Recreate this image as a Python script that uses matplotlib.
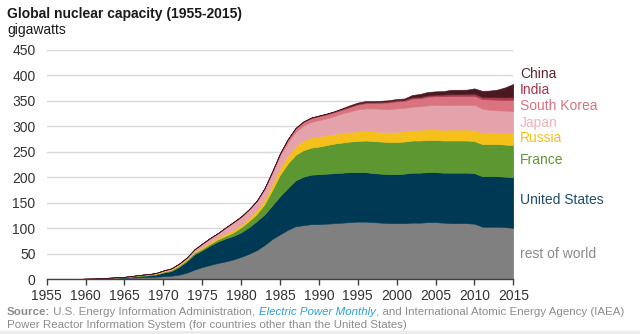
import matplotlib
matplotlib.use("Agg")
import matplotlib.pyplot as plt
from matplotlib.patches import Rectangle

plt.rcParams['font.family'] = ['Liberation Sans', 'DejaVu Sans']

years = list(range(1955, 2016))

rest_of_world = [0, 0.05, 0.1, 0.2, 0.4, 0.6, 0.8, 1.0, 1.5, 2.2,
                 3, 3.5, 4, 4.5, 5, 6, 7, 9, 13, 19,
                 24, 28, 32, 35, 39, 44, 50, 57, 67, 79,
                 88, 97, 104, 106, 108, 108, 109, 110, 111, 112,
                 113, 113, 112, 111, 110, 110, 110, 111, 111, 112,
                 112, 111, 110, 110, 110, 109, 103, 103, 103, 102,
                 101]
united_states = [0, 0, 0.06, 0.06, 0.1, 0.4, 0.5, 0.8, 0.9, 0.9,
                 0.9, 1.5, 2.5, 3, 4, 7, 9, 15, 22, 30,
                 33, 38, 42, 45, 46, 48, 52, 57, 60, 66,
                 75, 82, 90, 95, 97, 98, 98, 98, 98, 98,
                 97, 97, 96, 96, 96, 96, 97, 98, 98, 98,
                 98, 98, 99, 99, 99, 99, 99, 99, 99, 99,
                 99]
france = [0, 0, 0, 0, 0.05, 0.1, 0.1, 0.2, 0.3, 0.4,
          0.5, 0.8, 1.2, 1.5, 1.6, 1.7, 2, 2.5, 2.8, 2.8,
          3, 3.5, 4, 5, 7, 10, 12, 14, 20, 30,
          42, 48, 50, 52, 53, 54, 56, 58, 59, 60,
          61, 62, 63, 63, 63, 63, 63, 63, 63, 63,
          63, 63, 63, 63, 63, 63, 63, 63, 63, 63,
          63]
russia = [0, 0, 0, 0.1, 0.1, 0.2, 0.2, 0.3, 0.4, 0.5,
          0.5, 0.6, 0.8, 0.9, 1.0, 1.0, 1.2, 1.5, 2, 2.5,
          3, 3.5, 4, 4.5, 5, 5, 6, 7, 9, 11,
          13, 15, 17, 19, 20, 20, 19.5, 19, 19, 19,
          19, 19, 19, 19, 19, 20, 20, 20.5, 21, 21,
          21, 21, 21.5, 21.5, 21.5, 22, 22.5, 23, 23, 23.5,
          24]
japan = [0, 0, 0, 0, 0, 0, 0, 0, 0, 0,
         0, 0.2, 0.2, 0.2, 0.3, 1.3, 1.8, 2, 2.3, 4,
         6.6, 7.4, 8, 11, 14, 15, 16, 17, 19, 22,
         24, 26, 28, 29, 30, 32, 33, 35, 38, 40,
         43, 44, 45, 45, 45, 46, 46, 46, 46, 47,
         48, 48, 48, 48, 48, 49, 47, 44, 43, 43,
         43]
south_korea = [0] * 23 + [0.6, 0.6, 0.6, 0.6, 1.2, 2.7, 2.7,
               4.0, 5.6, 6.5, 7.2, 7.6, 7.6, 7.6, 7.6, 7.6, 8.6,
               9.6, 10.3, 10.3, 12.0, 13.7, 13.7, 13.7, 15.8, 15.8, 16.8,
               16.8, 17.7, 17.7, 17.7, 17.7, 17.7, 18.7, 20.7, 20.7, 20.7,
               21.7]
india = [0] * 14 + [0.3, 0.4, 0.4, 0.6, 0.6, 0.6,
         0.6, 0.6, 0.6, 0.6, 0.6, 0.8, 0.8, 0.8, 0.8, 1.0,
         1.0, 1.2, 1.2, 1.2, 1.4, 1.4, 1.4, 1.6, 1.6, 1.6,
         1.7, 1.8, 1.8, 1.8, 2.2, 2.5, 2.5, 2.5, 2.5, 2.8,
         3.0, 3.5, 3.8, 3.8, 4.0, 4.4, 4.4, 4.4, 5.3, 5.3,
         5.3]
china = [0] * 36 + [0.3, 0.3, 1.2, 2.1,
         2.1, 2.1, 2.1, 2.1, 2.1, 2.2, 2.2, 4.5, 6.0, 6.6,
         6.6, 6.6, 8.5, 8.5, 8.5, 10.1, 11.8, 12.9, 15.0, 20.0,
         26.0]

series_names = ['rest of world', 'United States', 'France', 'Russia',
                'Japan', 'South Korea', 'India', 'China']
series = [rest_of_world, united_states, france, russia, japan,
          south_korea, india, china]
fill_colors = ['#808080', '#003953', '#5d9732', '#f5c01a',
               '#e4a3aa', '#d9737f', '#a83a4c', '#4a1820']
label_colors = ['#8a8a8a', '#1f4e6e', '#5d9732', '#f5c01a',
                '#ecb3b8', '#d9737f', '#a8334a', '#5e2530']
label_y = [253.5, 200, 159.5, 138.5, 122.5, 105.5, 90.5, 74.5]  # pixel rows

xticks = list(range(1955, 2016, 5))
yticks = list(range(0, 451, 50))

W, H = 640, 334
fig = plt.figure(figsize=(W / 100, H / 100), dpi=100)
fig.patches.append(Rectangle((0, 0), 1, 3 / H, transform=fig.transFigure,
                             facecolor='#ececec', edgecolor='none', zorder=0))
ax = fig.add_axes([46.7 / W, 1 - 279.3 / H, (513.3 - 46.7) / W, (279.3 - 49.7) / H])

ax.stackplot(years, *series, colors=fill_colors, linewidth=0.4, zorder=2)
for coll, c in zip(ax.collections, fill_colors):
    coll.set_edgecolor(c)

ax.set_xlim(1955, 2015)
ax.set_ylim(0, 450)
ax.set_xticks(xticks)
ax.set_yticks(yticks)
ax.set_yticklabels([str(v) for v in yticks])
ax.set_xticklabels([str(v) for v in xticks])
ax.grid(axis='y', color='#d9d9d9', linewidth=1.0, zorder=0)
ax.set_axisbelow(True)
for s in ['top', 'right', 'left']:
    ax.spines[s].set_visible(False)
ax.spines['bottom'].set_color('#404040')
ax.spines['bottom'].set_linewidth(1.0)
ax.spines['bottom'].set_zorder(5)
ax.tick_params(axis='x', direction='out', length=4, width=1, color='#404040',
               labelsize=10, labelcolor='#333333', pad=3)
ax.tick_params(axis='y', length=0, labelsize=10, labelcolor='#333333', pad=8)

# right-side labels
for name, col, py in zip(series_names, label_colors, label_y):
    fig.text(520 / W, 1 - py / H, name, color=col, fontsize=10,
             ha='left', va='center')

fig.text(7 / W, 1 - 14 / H, 'Global nuclear capacity (1955-2015)',
         fontsize=10, fontweight='bold', color='#1a1a1a', ha='left', va='center')
fig.text(7 / W, 1 - 30 / H, 'gigawatts', fontsize=10, color='#1a1a1a',
         ha='left', va='center')

# source lines with mixed styles
fig.canvas.draw()
renderer = fig.canvas.get_renderer()
src_color = '#8c8c8c'
pieces = [('Source:', dict(fontweight='bold', color=src_color)),
          (' U.S. Energy Information Administration, ', dict(color=src_color)),
          ('Electric Power Monthly', dict(style='italic', color='#2a9fd8')),
          (', and International Atomic Energy Agency (IAEA)', dict(color=src_color))]
x = 7
fs = 8.25
for txt, kw in pieces:
    t = fig.text(x / W, 1 - 312 / H, txt, fontsize=fs, ha='left', va='center', **kw)
    bb = t.get_window_extent(renderer)
    x += bb.width
fig.text(7 / W, 1 - 325 / H,
         'Power Reactor Information System (for countries other than the United States)',
         fontsize=fs, color=src_color, ha='left', va='center')

fig.savefig('out.png', dpi=100)
